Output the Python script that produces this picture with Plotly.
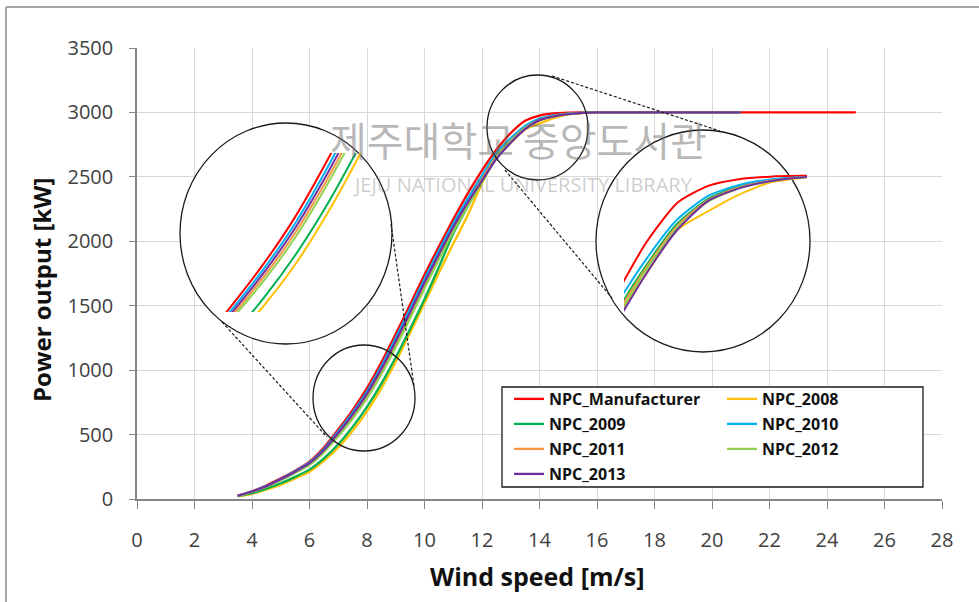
import plotly.graph_objects as go

# ---------------- data ----------------
ws_mfr = [3.5, 4, 4.5, 5, 5.5, 6, 6.5, 7, 7.5, 8, 8.5, 9, 9.5, 10, 10.5, 11, 11.5, 12,
          12.5, 13, 13.5, 14, 14.5, 15, 15.5, 16, 16.5, 17, 17.5, 18, 18.5, 19, 19.5,
          20, 20.5, 21, 21.5, 22, 22.5, 23, 23.5, 24, 24.5, 25]
ws_obs = [3.5, 4, 4.5, 5, 5.5, 6, 6.5, 7, 7.5, 8, 8.5, 9, 9.5, 10, 10.5, 11, 11.5, 12,
          12.5, 13, 13.5, 14, 14.5, 15, 15.5, 16, 16.5, 17, 17.5, 18, 18.5, 19, 19.5,
          20, 20.5, 21]

npc_manufacturer = [25, 60, 105, 160, 220, 290, 400, 540, 690, 860, 1060, 1280, 1510, 1740,
                    1960, 2170, 2370, 2550, 2710, 2840, 2935, 2976, 2992, 2998, 3000, 3000,
                    3000, 3000, 3000, 3000, 3000, 3000, 3000, 3000, 3000, 3000, 3000, 3000,
                    3000, 3000, 3000, 3000, 3000, 3000]
npc_2008 = [20, 40, 72, 112, 160, 212, 295, 400, 530, 680, 860, 1065, 1290, 1520, 1755, 1980,
            2200, 2450, 2650, 2765, 2870, 2915, 2955, 2984, 2995, 3000, 3000, 3000, 3000,
            3000, 3000, 3000, 3000, 3000, 3000, 3000]
npc_2009 = [22, 45, 80, 122, 172, 228, 315, 425, 560, 715, 895, 1100, 1320, 1550, 1800, 2060,
            2270, 2470, 2665, 2785, 2885, 2945, 2975, 2990, 2996, 3000, 3000, 3000, 3000,
            3000, 3000, 3000, 3000, 3000, 3000, 3000]
npc_2010 = [25, 59, 102, 156, 216, 283, 388, 524, 670, 836, 1032, 1250, 1478, 1708, 1928, 2138,
            2330, 2510, 2685, 2800, 2895, 2952, 2978, 2991, 2997, 3000, 3000, 3000, 3000,
            3000, 3000, 3000, 3000, 3000, 3000, 3000]
npc_2011 = [25, 57, 98, 150, 208, 272, 372, 500, 640, 800, 990, 1200, 1425, 1655, 1875, 2090,
            2290, 2480, 2660, 2780, 2880, 2942, 2972, 2988, 2996, 3000, 3000, 3000, 3000,
            3000, 3000, 3000, 3000, 3000, 3000, 3000]
npc_2012 = [25, 55, 95, 146, 202, 265, 362, 488, 625, 782, 970, 1180, 1405, 1635, 1860, 2075,
            2270, 2460, 2650, 2775, 2875, 2938, 2970, 2987, 2996, 3000, 3000, 3000, 3000,
            3000, 3000, 3000, 3000, 3000, 3000, 3000]
npc_2013 = [25, 58, 100, 153, 212, 278, 380, 512, 655, 818, 1010, 1225, 1450, 1680, 1900, 2110,
            2300, 2470, 2640, 2765, 2870, 2940, 2970, 2987, 2996, 3000, 3000, 3000, 3000,
            3000, 3000, 3000, 3000, 3000, 3000, 3000]

series = [
    ("NPC_Manufacturer", ws_mfr, npc_manufacturer, "#ff0000", "legend"),
    ("NPC_2008", ws_obs, npc_2008, "#ffc000", "legend2"),
    ("NPC_2009", ws_obs, npc_2009, "#00b050", "legend"),
    ("NPC_2010", ws_obs, npc_2010, "#00b0f0", "legend2"),
    ("NPC_2011", ws_obs, npc_2011, "#f79646", "legend"),
    ("NPC_2012", ws_obs, npc_2012, "#92d050", "legend2"),
    ("NPC_2013", ws_obs, npc_2013, "#7030a0", "legend"),
]

x_ticks = [0, 2, 4, 6, 8, 10, 12, 14, 16, 18, 20, 22, 24, 26, 28]
y_ticks = [0, 500, 1000, 1500, 2000, 2500, 3000, 3500]

# ---------------- layout geometry (pixels) ----------------
W, H = 979, 602
L, R, T, B = 137, 37, 48, 103
PW, PH = W - L - R, H - T - B
XMAX, YMAX = 28, 3500


def px(xp):
    return (xp - L) / PW


def py(yp):
    return (H - B - yp) / PH


def dx(xp):
    return (xp - L) / PW * XMAX


def dy(yp):
    return (H - B - yp) / PH * YMAX


fig = go.Figure()

for name, xs, ys, col, lg in series:
    fig.add_trace(go.Scatter(x=xs, y=ys, mode="lines", name=name, legend=lg,
                             legendgroup=name,
                             line=dict(color=col, width=2.3, shape="spline", smoothing=0.6),
                             xaxis="x", yaxis="y"))
for name, xs, ys, col, lg in series:
    fig.add_trace(go.Scatter(x=xs, y=ys, mode="lines", showlegend=False,
                             line=dict(color=col, width=2, shape="spline", smoothing=0.6),
                             xaxis="x2", yaxis="y2"))
for name, xs, ys, col, lg in series:
    fig.add_trace(go.Scatter(x=xs, y=ys, mode="lines", showlegend=False,
                             line=dict(color=col, width=2, shape="spline", smoothing=0.6),
                             xaxis="x3", yaxis="y3"))

shapes = []
# white filled magnifier circles (above grid, below data)
for (x0, y0, x1, y1) in [(180, 123, 392, 344), (596, 130, 810, 352)]:
    shapes.append(dict(type="circle", xref="x", yref="y", layer="between",
                       x0=dx(x0), x1=dx(x1), y0=dy(y1), y1=dy(y0),
                       fillcolor="white", line=dict(color="#1a1a1a", width=1.3)))
# small circles
for (x0, y0, x1, y1) in [(313, 345, 415, 451), (487, 75, 588, 180)]:
    shapes.append(dict(type="circle", xref="paper", yref="paper", layer="above",
                       x0=px(x0), x1=px(x1), y0=py(y1), y1=py(y0),
                       line=dict(color="#1a1a1a", width=1.3)))
# dashed connectors
for (x0, y0, x1, y1) in [(222, 322, 327, 437), (391, 224, 414, 386),
                         (552, 76, 720, 131), (505, 170, 612, 298)]:
    shapes.append(dict(type="line", xref="paper", yref="paper", layer="above",
                       x0=px(x0), x1=px(x1), y0=py(y0), y1=py(y1),
                       line=dict(color="#1a1a1a", width=1.2, dash="3px,2px")))
# legend box
shapes.append(dict(type="rect", xref="paper", yref="paper", layer="above",
                   x0=px(502), x1=px(923), y0=py(487), y1=py(387),
                   fillcolor="white", line=dict(color="#1a1a1a", width=1.3)))
# outer frame (top and left)
shapes.append(dict(type="line", xref="paper", yref="paper", x0=px(6), x1=px(990),
                   y0=py(7), y1=py(7), line=dict(color="#8a8a8a", width=1.5)))
shapes.append(dict(type="line", xref="paper", yref="paper", x0=px(6), x1=px(6),
                   y0=py(7), y1=py(610), line=dict(color="#8a8a8a", width=1.5)))

annotations = [
    dict(text="Power output [kW]", xref="paper", yref="paper", x=px(41), y=py(290),
         textangle=-90, showarrow=False, xanchor="center", yanchor="middle",
         font=dict(family="Open Sans", size=24, color="#111111", weight="bold")),
    dict(text="Wind speed [m/s]", xref="paper", yref="paper", x=px(537), y=py(576),
         showarrow=False, xanchor="center", yanchor="middle",
         font=dict(family="Open Sans", size=25, color="#111111", weight="bold")),
    dict(text="제주대학교 중앙도서관", xref="paper", yref="paper", x=px(518), y=py(139),
         showarrow=False, xanchor="center", yanchor="middle",
         font=dict(family="Noto Sans CJK KR", size=40, color="rgba(105,105,105,0.48)")),
    dict(text="JEJU NATIONAL UNIVERSITY LIBRARY", xref="paper", yref="paper",
         x=px(523), y=py(185), showarrow=False, xanchor="center", yanchor="middle",
         font=dict(family="Open Sans", size=20, color="rgba(110,110,110,0.35)")),
]

axis_common = dict(showgrid=True, gridcolor="#d9d9d9", gridwidth=1, zeroline=False,
                   showline=True, linecolor="#868686", linewidth=1.5, ticks="outside",
                   tickcolor="#868686",
                   tickfont=dict(family="Open Sans", size=20, color="#404040"))

legend_font = dict(family="Open Sans", size=16, color="#111111", weight="bold")

fig.update_layout(
    width=W, height=H,
    margin=dict(l=L, r=R, t=T, b=B, pad=0),
    paper_bgcolor="white", plot_bgcolor="rgba(0,0,0,0)",
    xaxis=dict(range=[0, XMAX], tickvals=x_ticks, ticklen=8, ticklabelstandoff=14,
               **axis_common),
    yaxis=dict(range=[0, YMAX], tickvals=y_ticks, ticklen=6, ticklabelstandoff=12,
               **axis_common),
    xaxis2=dict(domain=[px(180), px(392)], range=[6.09, 9.6], visible=False,
                anchor="y2"),
    yaxis2=dict(domain=[py(312), py(153)], range=[500, 1100], visible=False,
                anchor="x2"),
    xaxis3=dict(domain=[px(624), px(807)], range=[12.64, 15.6], visible=False,
                anchor="y3"),
    yaxis3=dict(domain=[py(330), py(170)], range=[2630, 3014], visible=False,
                anchor="x3"),
    legend=dict(x=px(509), y=py(382), xanchor="left", yanchor="top",
                bgcolor="rgba(0,0,0,0)", borderwidth=0, font=legend_font,
                tracegroupgap=1.2, itemwidth=30),
    legend2=dict(x=px(722), y=py(382), xanchor="left", yanchor="top",
                 bgcolor="rgba(0,0,0,0)", borderwidth=0, font=legend_font,
                 tracegroupgap=1.2, itemwidth=30),
    shapes=shapes,
    annotations=annotations,
    showlegend=True,
)

fig.write_html("out.html")
